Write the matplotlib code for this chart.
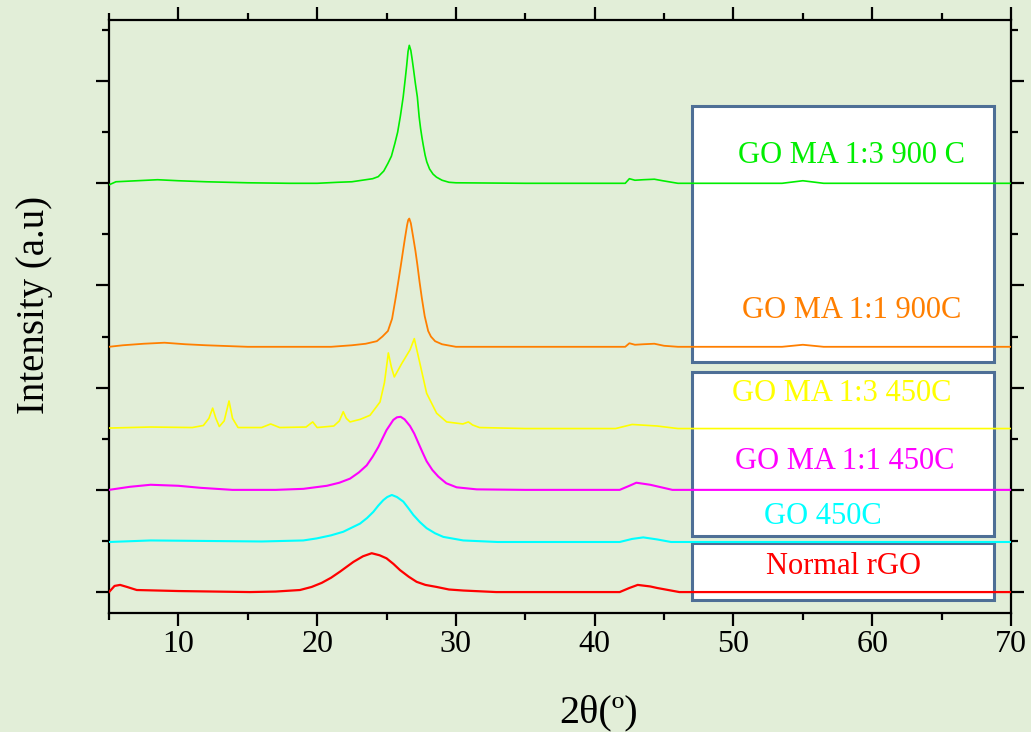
import matplotlib
matplotlib.use("Agg")
import matplotlib.pyplot as plt
from matplotlib.patches import Rectangle
from matplotlib.ticker import MultipleLocator

plt.rcParams['font.family'] = ['Liberation Serif', 'DejaVu Serif']

# XRD patterns (2theta, intensity above each trace's baseline)
labels = ["Normal rGO", "GO 450C", "GO MA 1:1 450C", "GO MA 1:3 450C",
          "GO MA 1:1 900C", "GO MA 1:3 900 C"]
colors = ["#ff0000", "#00ffff", "#ff00ff", "#ffff00", "#ff7f00", "#00ee00"]
baselines = [0.0, 0.98, 2.0, 3.2, 4.8, 8.0]

red_x = [5, 5.4, 5.8, 6.3, 7.0, 10, 15.16, 17, 18.76, 19.6, 20.33, 21.0, 21.65, 22.61,
         23.3, 23.93, 24.5, 25.0, 25.5, 25.97, 26.6, 27.17, 27.8, 28.61, 29.5, 30.53,
         32.9, 41.8, 42.5, 43.1, 44.0, 44.5, 46.1, 70]
red_y = [0.0, 0.12, 0.14, 0.1, 0.04, 0.02, 0.0, 0.01, 0.04, 0.1, 0.18, 0.28, 0.40, 0.59,
         0.7, 0.76, 0.72, 0.66, 0.55, 0.43, 0.3, 0.2, 0.14, 0.1, 0.05, 0.03,
         0.0, 0.0, 0.08, 0.14, 0.11, 0.08, 0.0, 0.0]

cyan_x = [5, 8, 12, 16, 19, 19.97, 21.0, 21.88, 23.09, 23.6, 24.05, 24.4, 24.77, 25.05,
          25.38, 25.75, 26.21, 26.55, 26.93, 27.4, 27.89, 28.5, 29.09, 30.53, 33, 41.8,
          42.7, 43.5, 44.5, 45.5, 50, 70]
cyan_y = [0.0, 0.03, 0.02, 0.01, 0.03, 0.07, 0.13, 0.2, 0.36, 0.47, 0.59, 0.71, 0.82, 0.88,
          0.92, 0.88, 0.79, 0.67, 0.53, 0.39, 0.27, 0.17, 0.1, 0.03, 0.0, 0.0,
          0.06, 0.09, 0.05, 0.0, 0.0, 0.0]

magenta_x = [5, 6.5, 8, 10, 11.6, 13.9, 17, 19, 20.7, 21.6, 22.37, 23.0, 23.57, 24.0, 24.41,
             25.0, 25.49, 25.75, 26.02, 26.3, 26.69, 27.0, 27.29, 27.6, 27.89, 28.3, 28.73,
             29.3, 30.05, 31.5, 35, 41.8, 42.5, 43.0, 44.0, 45.6, 50, 70]
magenta_y = [0.0, 0.06, 0.1, 0.08, 0.04, 0.0, 0.0, 0.02, 0.08, 0.14, 0.22, 0.34, 0.48, 0.65,
             0.84, 1.17, 1.37, 1.42, 1.43, 1.38, 1.25, 1.1, 0.92, 0.73, 0.56, 0.39, 0.26,
             0.13, 0.05, 0.01, 0.0, 0.0, 0.08, 0.14, 0.1, 0.0, 0.0, 0.0]

yellow_x = [5, 8, 11, 11.8, 12.2, 12.47, 12.7, 12.95, 13.3, 13.65, 13.9, 14.3, 16.0, 16.65,
            17.3, 19.2, 19.68, 20.0, 21.2, 21.6, 21.88, 22.1, 22.37, 23.1, 23.81, 24.53,
            24.85, 25.13, 25.35, 25.56, 26.09, 26.69, 27.0, 27.41, 27.89, 28.61, 29.33,
            30.5, 30.9, 31.2, 31.7, 35, 41.5, 42.7, 44.5, 46, 70]
yellow_y = [0.01, 0.03, 0.02, 0.06, 0.2, 0.40, 0.2, 0.04, 0.15, 0.54, 0.2, 0.02, 0.02, 0.09,
            0.02, 0.03, 0.13, 0.02, 0.05, 0.15, 0.33, 0.2, 0.13, 0.18, 0.26, 0.52,
            0.9, 1.48, 1.2, 1.01, 1.27, 1.54, 1.76, 1.27, 0.69, 0.30, 0.13,
            0.09, 0.13, 0.07, 0.02, 0.0, 0.0, 0.08, 0.05, 0.0, 0.0]

orange_x = [5, 6, 7.5, 9, 10.5, 12, 15, 18, 21, 22.5, 23.5, 24.3, 24.7, 25.1, 25.4, 25.66,
            25.85, 26.04, 26.2, 26.33, 26.48, 26.56, 26.64, 26.75, 26.93, 27.08, 27.22,
            27.38, 27.54, 27.75, 28.0, 28.2, 28.5, 29.0, 30, 35, 42.2, 42.5, 42.9, 43.5,
            44.3, 45, 46, 53.5, 55, 56.5, 60, 70]
orange_y = [0.0, 0.03, 0.06, 0.08, 0.05, 0.03, 0.0, 0.0, 0.0, 0.03, 0.06, 0.11, 0.2, 0.31,
            0.55, 0.96, 1.28, 1.61, 1.9, 2.13, 2.38, 2.48, 2.51, 2.42, 2.13, 1.88, 1.61,
            1.27, 0.96, 0.6, 0.31, 0.2, 0.11, 0.05, 0.0, 0.0, 0.0, 0.07, 0.04, 0.05,
            0.06, 0.02, 0.0, 0.0, 0.04, 0.0, 0.0, 0.0]

green_x = [5, 5.5, 7, 8.5, 10, 12, 15, 18, 20, 21.5, 22.5, 23.5, 24.0, 24.4, 24.8, 25.1,
           25.35, 25.6, 25.8, 26.0, 26.2, 26.35, 26.45, 26.55, 26.64, 26.75, 26.85, 26.95,
           27.08, 27.22, 27.35, 27.45, 27.55, 27.65, 27.78, 27.9, 28.1, 28.35, 28.6, 29.0,
           29.5, 30, 35, 42.2, 42.5, 42.9, 43.5, 44.3, 44.9, 46, 53.5, 55, 56.5, 60, 70]
green_y = [-0.03, 0.03, 0.05, 0.07, 0.05, 0.03, 0.01, 0.0, 0.0, 0.02, 0.03, 0.07, 0.09, 0.13,
           0.24, 0.39, 0.53, 0.78, 1.0, 1.32, 1.69, 2.05, 2.3, 2.58, 2.70, 2.6, 2.42, 2.22,
           1.95, 1.69, 1.3, 1.08, 0.9, 0.74, 0.55, 0.42, 0.28, 0.18, 0.12, 0.06,
           0.02, 0.01, 0.0, 0.0, 0.09, 0.06, 0.07, 0.08, 0.05, 0.0, 0.0, 0.05, 0.0, 0.0, 0.0]

xs = [red_x, cyan_x, magenta_x, yellow_x, orange_x, green_x]
ys = [red_y, cyan_y, magenta_y, yellow_y, orange_y, green_y]

BG = "#e2eed8"
BOX_EDGE = "#4e6f96"
W, H = 1031, 732
L, R, T, B = 109, 1011, 20, 612.5

fig = plt.figure(figsize=(W / 100, H / 100), dpi=100, facecolor=BG)
ax = fig.add_axes([L / W, 1 - B / H, (R - L) / W, (B - T) / H], facecolor=BG)


def ax_frac(px, py):
    return (px - L) / (R - L), (B - py) / (B - T)


# white boxes behind the traces (pixel corners)
for x0, y0, x1, y1 in [(692, 106, 994, 362), (692, 372, 994, 536), (692, 543, 994, 600)]:
    fx0, fy1 = ax_frac(x0, y1)
    fx1, fy0 = ax_frac(x1, y0)
    ax.add_patch(Rectangle((fx0, fy1), fx1 - fx0, fy0 - fy1, transform=ax.transAxes,
                           facecolor="white", edgecolor=BOX_EDGE, lw=2.2, zorder=1))

lws = [1.6, 1.5, 1.5, 1.2, 1.3, 1.2]
for x, y, base, c, lw in zip(xs, ys, baselines, colors, lws):
    ax.plot(x, [base + v for v in y], color=c, lw=lw, zorder=3)

# sample names inside the boxes
text_pos = [(843, 566), (823, 516), (845, 462), (842, 394), (852, 311), (851, 156)]
for lab, c, (px, py) in zip(labels, colors, text_pos):
    fx, fy = ax_frac(px, py)
    ax.text(fx, fy, lab, color=c, fontsize=22, ha="center", va="center",
            transform=ax.transAxes, zorder=4)

ax.set_xlim(5, 70)
ax.set_ylim(-0.40, 11.196)
ax.xaxis.set_major_locator(MultipleLocator(10))
ax.xaxis.set_minor_locator(MultipleLocator(5))
ax.yaxis.set_major_locator(MultipleLocator(2))
ax.yaxis.set_minor_locator(MultipleLocator(1))
ax.tick_params(which="both", direction="out", width=1.6, top=True, right=True,
               labelleft=False, labelsize=23, pad=3, color="black")
ax.tick_params(which="major", length=9.5)
ax.tick_params(which="minor", length=5)
for s in ax.spines.values():
    s.set_linewidth(1.6)

fig.text(35 / W, 1 - 305 / H, "Intensity (a.u)", rotation=90, fontsize=28,
         ha="center", va="center")
fig.text(599 / W, 1 - 722 / H, "2θ(º)", fontsize=29, ha="center", va="baseline")

fig.savefig("out.png", dpi=100, facecolor=BG)
